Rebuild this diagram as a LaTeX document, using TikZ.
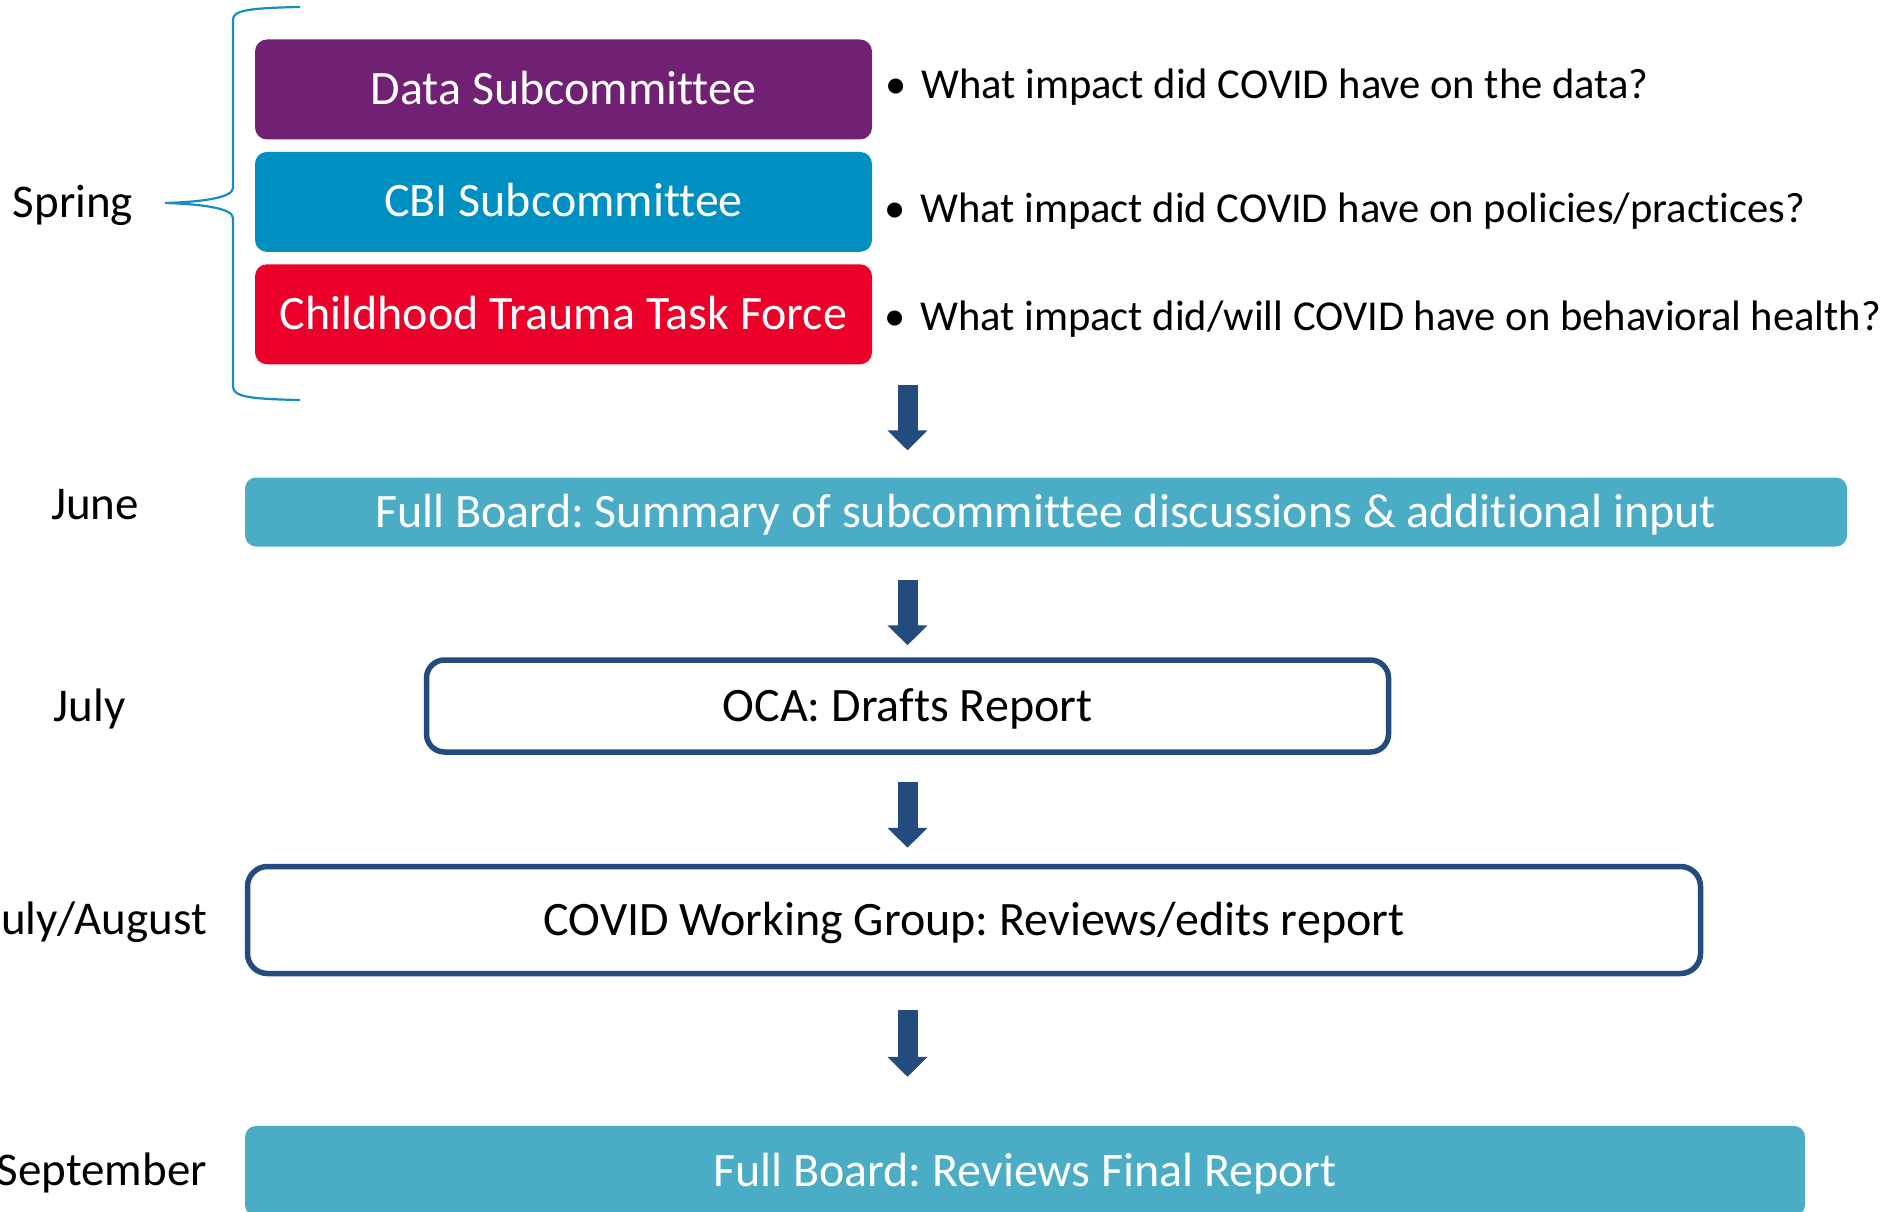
\documentclass[tikz,border=0pt]{standalone}
\usepackage{fontspec}
\setmainfont{Carlito}[Ligatures=NoCommon]
\frenchspacing
\usetikzlibrary{arrows.meta,positioning}
\definecolor{datapurple}{HTML}{712173}
\definecolor{cbiblue}{HTML}{008FC1}
\definecolor{traumared}{HTML}{EA0029}
\definecolor{boardteal}{HTML}{4BACC6}
\definecolor{navy}{HTML}{234B7E}
\definecolor{bracecol}{HTML}{1A8CC4}
\tikzset{
  groupbox/.style={rounded corners=12pt, inner sep=0pt, text=white,
    minimum width=617pt, minimum height=100pt, text height=30pt, text depth=0pt},
  boardbox/.style={fill=boardteal, rounded corners=11pt, inner sep=0pt, text=white,
    text height=30pt, text depth=0pt},
  reportbox/.style={draw=navy, line width=5.5pt, rounded corners=18pt, inner sep=0pt,
    text height=30pt, text depth=0pt},
  month/.style={anchor=base, inner sep=0pt, font=\fontsize{47}{56}\selectfont},
  question/.style={anchor=west, inner sep=0pt, text height=27pt, text depth=0pt,
    font=\fontsize{42.6}{51}\selectfont},
  bigarrow/.style={navy, line width=20pt, -{Triangle[width=39pt,length=20pt]}},
}
\begin{document}
\begin{tikzpicture}[x=1pt,y=-1pt,font=\fontsize{48}{58}\selectfont]
  \useasboundingbox (0,0) rectangle (1883,1212);

  \node[groupbox, fill=datapurple] (data) at (563.5,89.5) {Data Subcommittee};
  \node[groupbox, fill=cbiblue, below=12pt of data] (cbi) {CBI Subcommittee};
  \node[groupbox, fill=traumared, below=12pt of cbi] (trauma) {Childhood Trauma Task Force};

  \node[question] (qdata) at (885,85) {\makebox[36pt][l]{•}What impact did COVID have on the data?};
  \node[question] (qcbi) at (884,209) {\makebox[36pt][l]{•}What impact did COVID have on policies/practices?};
  \node[question] (qtrauma) at (884,317) {\makebox[36pt][l]{•}What impact did/will COVID have on behavioral health?};

  \draw[bracecol, line width=2.2pt] (300,7) .. controls (245,8) and (233,11) .. (233,20)
    -- (233,188) .. controls (233,198) and (200,202) .. (165,203)
    .. controls (200,204) and (233,208) .. (233,218)
    -- (233,386) .. controls (233,396) and (245,399) .. (300,400);
  \node[month] (spring) at (73,218) {Spring};

  \node[boardbox, minimum width=1602pt, minimum height=69pt] (june) at (1046,512)
    {Full Board: Summary of subcommittee discussions \& additional input};
  \node[reportbox, minimum width=962pt, minimum height=92pt] (oca) at (907.5,706) {OCA: Drafts Report};
  \node[reportbox, minimum width=1453pt, minimum height=107pt, rounded corners=20pt] (group) at (974,920)
    {COVID Working Group: Reviews/edits report};
  \node[boardbox, minimum width=1560pt, minimum height=90pt] (final) at (1025,1171) {Full Board: Reviews Final Report};

  \node[month] (mjune) at (95,519) {June};
  \node[month] (mjuly) at (89.5,721) {July};
  \node[month, anchor=base east] (mjulyaug) at (207,934) {July/August};
  \node[month, anchor=base east] (msept) at (207,1185) {September};

  \draw[bigarrow, shorten <=20pt, shorten >=27pt] (oca.north |- trauma.south) -- (oca.north |- june.north);
  \draw[bigarrow, shorten <=33pt, shorten >=12pt] (oca.north |- june.south) -- (oca.north);
  \draw[bigarrow, shorten <=27pt, shorten >=16pt] (oca.south) -- (oca.south |- group.north);
  \draw[bigarrow, shorten <=34pt, shorten >=49pt] (oca.south |- group.south) -- (oca.south |- final.north);
\end{tikzpicture}
\end{document}
